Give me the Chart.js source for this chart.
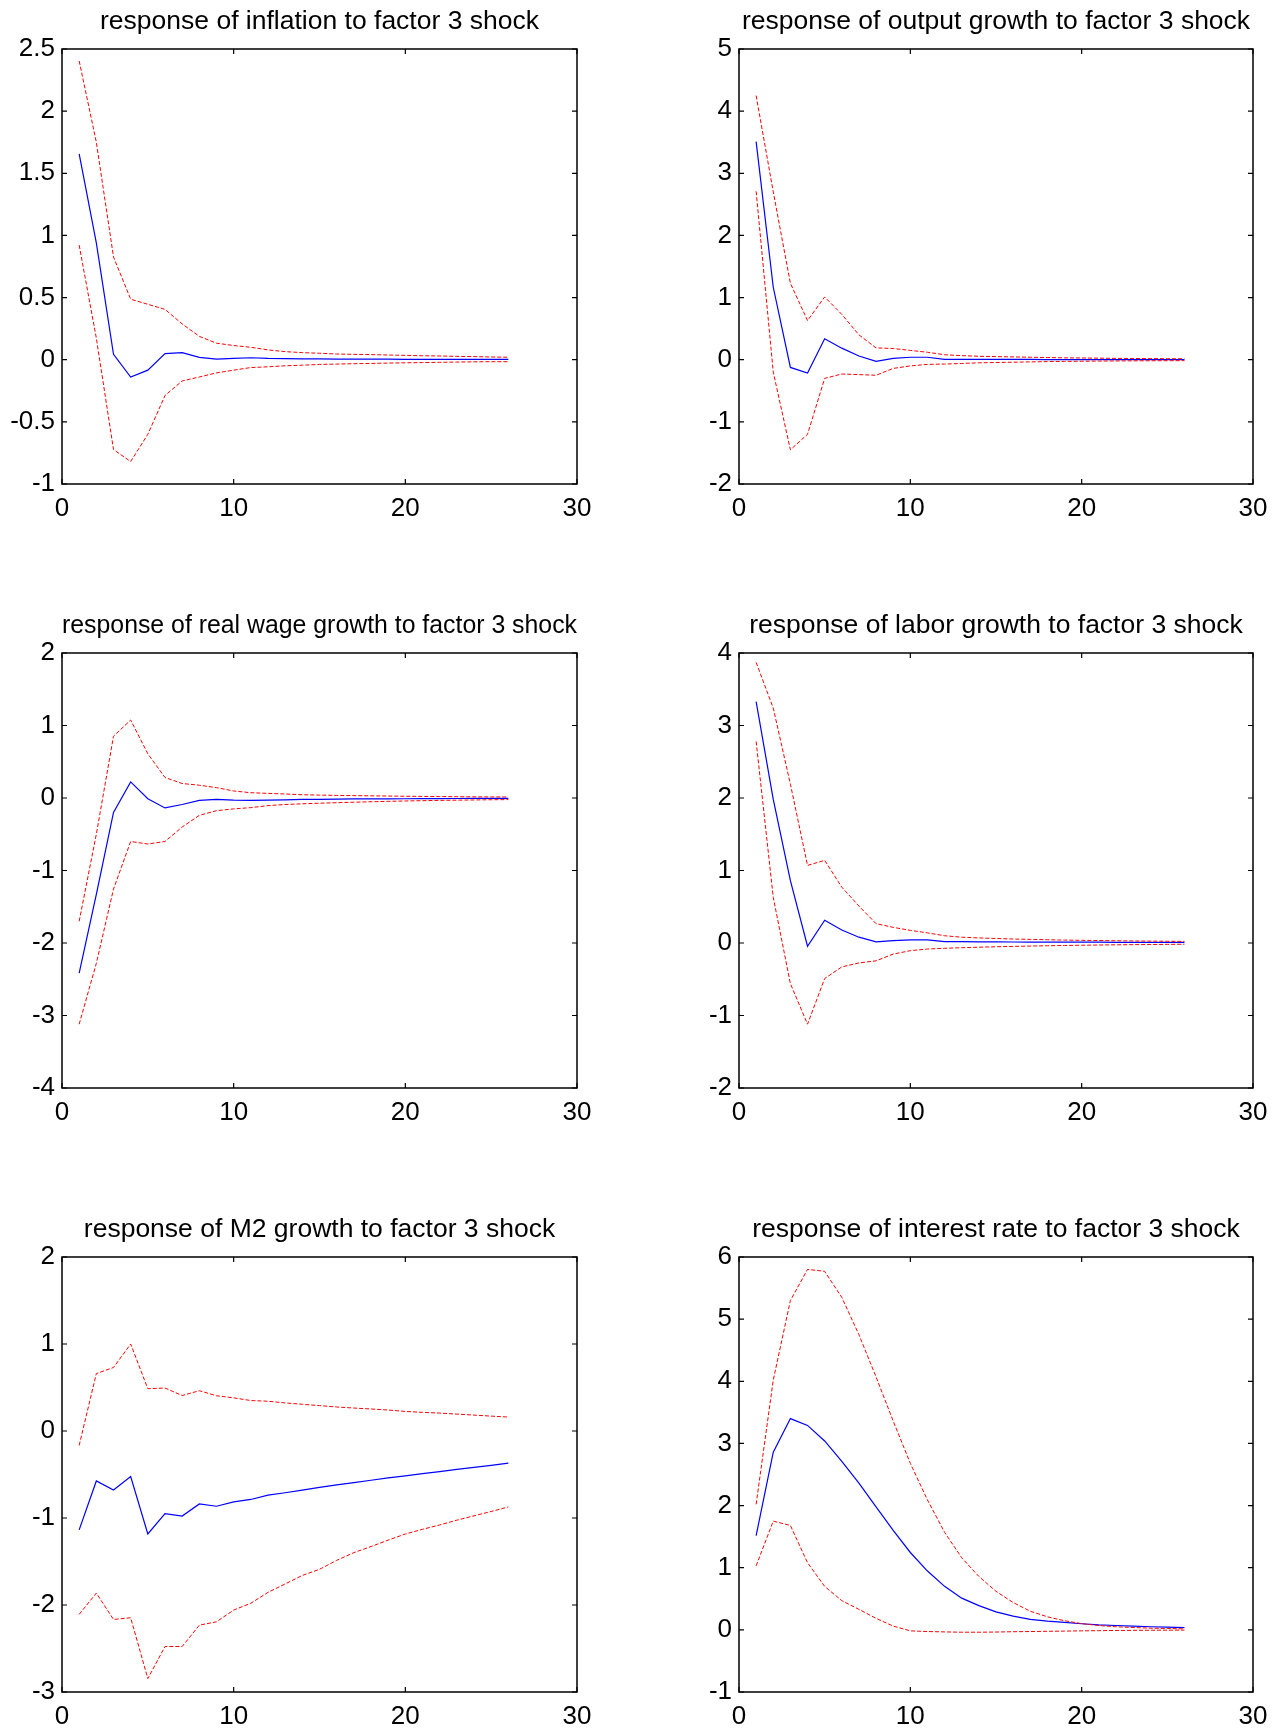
<!DOCTYPE html>
<html><head><meta charset="utf-8">
<script src="https://cdn.jsdelivr.net/npm/chart.js@4.4.1/dist/chart.umd.min.js"></script>
<style>
html,body{margin:0;padding:0;background:#fff;}
#wrap{position:relative;width:1281px;height:1729px;overflow:hidden;background:#fff;}
canvas{position:absolute;}
</style></head><body><div id="wrap"></div>
<script>
// ---------- data ----------
const horizon = [1,2,3,4,5,6,7,8,9,10,11,12,13,14,15,16,17,18,19,20,21,22,23,24,25,26];
const xTicks = [0,10,20,30];

const titleInflation = "response of inflation to factor 3 shock";
const yTicksInflation = [-1,-0.5,0,0.5,1,1.5,2,2.5];
const meanInflation  = [1.656,0.94,0.044,-0.139,-0.084,0.049,0.057,0.019,0.005,0.01,0.016,0.01,0.008,0.007,0.006,0.005,0.005,0.004,0.004,0.003,0.003,0.003,0.002,0.002,0.002,0.002];
const upperInflation = [2.404,1.75,0.827,0.487,0.446,0.405,0.288,0.188,0.133,0.114,0.10,0.079,0.065,0.057,0.052,0.046,0.043,0.041,0.038,0.035,0.032,0.03,0.027,0.025,0.022,0.02];
const lowerInflation = [0.922,0.174,-0.723,-0.819,-0.60,-0.288,-0.171,-0.139,-0.106,-0.084,-0.063,-0.057,-0.049,-0.044,-0.038,-0.035,-0.032,-0.03,-0.027,-0.025,-0.023,-0.021,-0.019,-0.017,-0.016,-0.016];

const titleOutput = "response of output growth to factor 3 shock";
const yTicksOutput = [-2,-1,0,1,2,3,4,5];
const meanOutput  = [3.51,1.166,-0.124,-0.216,0.338,0.186,0.06,-0.026,0.023,0.04,0.04,0.007,0.006,0.005,0.005,0.004,0.004,0.003,0.003,0.003,0.002,0.002,0.002,0.002,0.001,0.001];
const upperOutput = [4.25,2.7,1.23,0.63,1.01,0.73,0.40,0.19,0.18,0.15,0.12,0.08,0.066,0.055,0.05,0.045,0.04,0.035,0.03,0.028,0.025,0.022,0.02,0.018,0.016,0.015];
const lowerOutput = [2.71,-0.20,-1.45,-1.20,-0.30,-0.23,-0.24,-0.25,-0.14,-0.10,-0.075,-0.07,-0.06,-0.05,-0.045,-0.04,-0.035,-0.03,-0.027,-0.025,-0.022,-0.02,-0.018,-0.017,-0.016,-0.015];

const titleWage = "response of real wage growth to factor 3 shock";
const yTicksWage = [-4,-3,-2,-1,0,1,2];
const meanWage  = [-2.415,-1.33,-0.198,0.222,-0.01,-0.137,-0.09,-0.034,-0.02,-0.03,-0.034,-0.03,-0.025,-0.02,-0.018,-0.015,-0.013,-0.012,-0.011,-0.01,-0.009,-0.008,-0.007,-0.006,-0.006,-0.005];
const upperWage = [-1.70,-0.50,0.852,1.076,0.61,0.283,0.20,0.176,0.143,0.097,0.073,0.064,0.055,0.045,0.04,0.036,0.033,0.03,0.027,0.024,0.022,0.02,0.018,0.016,0.015,0.014];
const lowerWage = [-3.12,-2.28,-1.256,-0.60,-0.635,-0.60,-0.40,-0.24,-0.175,-0.15,-0.133,-0.105,-0.09,-0.08,-0.072,-0.065,-0.058,-0.052,-0.046,-0.041,-0.037,-0.033,-0.03,-0.027,-0.024,-0.022];

const titleLabor = "response of labor growth to factor 3 shock";
const yTicksLabor = [-2,-1,0,1,2,3,4];
const meanLabor  = [3.33,1.98,0.86,-0.045,0.314,0.18,0.08,0.015,0.034,0.043,0.043,0.02,0.018,0.016,0.015,0.014,0.013,0.012,0.012,0.011,0.011,0.01,0.01,0.01,0.01,0.01];
const upperLabor = [3.87,3.24,2.19,1.07,1.14,0.77,0.51,0.267,0.216,0.174,0.14,0.10,0.08,0.07,0.062,0.055,0.05,0.045,0.04,0.037,0.034,0.031,0.028,0.026,0.024,0.022];
const lowerLabor = [2.78,0.627,-0.56,-1.12,-0.49,-0.33,-0.275,-0.246,-0.153,-0.106,-0.083,-0.073,-0.065,-0.058,-0.052,-0.047,-0.042,-0.038,-0.034,-0.031,-0.028,-0.025,-0.023,-0.021,-0.019,-0.017];

const titleM2 = "response of M2 growth to factor 3 shock";
const yTicksM2 = [-3,-2,-1,0,1,2];
const meanM2  = [-1.137,-0.574,-0.679,-0.524,-1.183,-0.95,-0.977,-0.838,-0.865,-0.815,-0.787,-0.737,-0.71,-0.68,-0.647,-0.62,-0.593,-0.566,-0.539,-0.516,-0.489,-0.466,-0.442,-0.419,-0.396,-0.369];
const upperM2 = [-0.166,0.66,0.73,1.0,0.486,0.494,0.408,0.463,0.405,0.381,0.35,0.342,0.323,0.307,0.292,0.276,0.264,0.253,0.241,0.225,0.214,0.206,0.194,0.183,0.171,0.16];
const lowerM2 = [-2.108,-1.863,-2.166,-2.147,-2.846,-2.477,-2.477,-2.232,-2.193,-2.058,-1.98,-1.855,-1.758,-1.66,-1.59,-1.487,-1.398,-1.328,-1.254,-1.184,-1.13,-1.08,-1.025,-0.975,-0.925,-0.873];

const titleRate = "response of interest rate to factor 3 shock";
const yTicksRate = [-1,0,1,2,3,4,5,6];
const meanRate  = [1.516,2.86,3.40,3.29,3.04,2.71,2.36,1.98,1.60,1.245,0.946,0.70,0.51,0.39,0.29,0.22,0.17,0.14,0.12,0.098,0.08,0.07,0.06,0.05,0.045,0.035];
const upperRate = [2.02,4.02,5.30,5.80,5.77,5.35,4.75,4.07,3.36,2.68,2.09,1.57,1.16,0.86,0.62,0.44,0.30,0.21,0.147,0.10,0.07,0.05,0.038,0.027,0.022,0.016];
const lowerRate = [1.03,1.75,1.68,1.08,0.70,0.47,0.33,0.185,0.06,-0.016,-0.027,-0.033,-0.038,-0.038,-0.035,-0.03,-0.027,-0.023,-0.02,-0.016,-0.013,-0.01,-0.008,-0.006,-0.005,-0.004];

// ---------- layout ----------
const panels = [
  {title:titleInflation, ticks:yTicksInflation, mean:meanInflation, upper:upperInflation, lower:lowerInflation, col:0, row:0},
  {title:titleOutput,    ticks:yTicksOutput,    mean:meanOutput,    upper:upperOutput,    lower:lowerOutput,    col:1, row:0},
  {title:titleWage,      ticks:yTicksWage,      mean:meanWage,      upper:upperWage,      lower:lowerWage,      col:0, row:1},
  {title:titleLabor,     ticks:yTicksLabor,     mean:meanLabor,     upper:upperLabor,     lower:lowerLabor,     col:1, row:1},
  {title:titleM2,        ticks:yTicksM2,        mean:meanM2,        upper:upperM2,        lower:lowerM2,        col:0, row:2},
  {title:titleRate,      ticks:yTicksRate,      mean:meanRate,      upper:upperRate,      lower:lowerRate,      col:1, row:2}
];
const colLeft = [0, 640], colWidth = [640, 641];
const yAxisWidth = [62, 99], rightPad = [63, 28];
const rowTop = [0, 604, 1208], canvasH = 521;
const FONT = "'Liberation Sans', Arial, Helvetica, sans-serif";

const framePlugin = {
  id: 'frame',
  afterDatasetsDraw(chart) {
    const {ctx, chartArea: a, scales: {x, y}} = chart;
    ctx.save();
    ctx.strokeStyle = '#000';
    ctx.lineWidth = 1.5;
    ctx.strokeRect(a.left, a.top, a.right - a.left, a.bottom - a.top);
    ctx.lineWidth = 1.2;
    ctx.beginPath();
    const L = 5;
    x.ticks.forEach(t => {
      const p = x.getPixelForValue(t.value);
      ctx.moveTo(p, a.bottom); ctx.lineTo(p, a.bottom - L);
      ctx.moveTo(p, a.top); ctx.lineTo(p, a.top + L);
    });
    y.ticks.forEach(t => {
      const p = y.getPixelForValue(t.value);
      ctx.moveTo(a.left, p); ctx.lineTo(a.left + L, p);
      ctx.moveTo(a.right, p); ctx.lineTo(a.right - L, p);
    });
    ctx.stroke();
    ctx.restore();
  }
};

const wrap = document.getElementById('wrap');
const toPts = arr => horizon.map((h, i) => ({x: h, y: arr[i]}));

panels.forEach(p => {
  const cv = document.createElement('canvas');
  cv.width = colWidth[p.col]; cv.height = canvasH;
  cv.style.left = colLeft[p.col] + 'px';
  cv.style.top = rowTop[p.row] + 'px';
  cv.style.width = colWidth[p.col] + 'px';
  cv.style.height = canvasH + 'px';
  wrap.appendChild(cv);
  const yw = yAxisWidth[p.col];
  new Chart(cv, {
    type: 'line',
    data: {
      datasets: [
        {data: toPts(p.upper), borderColor: '#ff0000', borderWidth: 1, borderDash: [4, 2], pointRadius: 0, fill: false, tension: 0},
        {data: toPts(p.lower), borderColor: '#ff0000', borderWidth: 1, borderDash: [4, 2], pointRadius: 0, fill: false, tension: 0},
        {data: toPts(p.mean),  borderColor: '#0000ff', borderWidth: 1.2, pointRadius: 0, fill: false, tension: 0}
      ]
    },
    options: {
      responsive: false, animation: false, devicePixelRatio: 1,
      layout: {padding: {left: 0, right: rightPad[p.col], top: 0, bottom: 0}},
      plugins: {
        legend: {display: false}, tooltip: {enabled: false},
        title: {display: true, text: p.title, fullSize: false, color: '#000',
                font: {family: FONT, size: 26.5, weight: 'normal', lineHeight: 1.2},
                padding: {top: 6, bottom: 11.2}}
      },
      scales: {
        x: {
          type: 'linear', min: xTicks[0], max: xTicks[xTicks.length - 1],
          grid: {display: false, drawTicks: false}, border: {display: false},
          afterBuildTicks: s => { s.ticks = xTicks.map(v => ({value: v})); },
          afterFit: s => { s.height = canvasH - 484; },
          ticks: {color: '#000', padding: 9, maxRotation: 0, autoSkip: false,
                  font: {family: FONT, size: 26}, callback: v => String(v)}
        },
        y: {
          type: 'linear', min: p.ticks[0], max: p.ticks[p.ticks.length - 1],
          grid: {display: false, drawTicks: false}, border: {display: false},
          afterBuildTicks: s => { s.ticks = p.ticks.map(v => ({value: v})); },
          afterFit: s => { s.width = yw; },
          ticks: {color: '#000', padding: 7, autoSkip: false,
                  font: {family: FONT, size: 26}, callback: v => String(v)}
        }
      }
    },
    plugins: [framePlugin]
  });
});
</script>
</body></html>
